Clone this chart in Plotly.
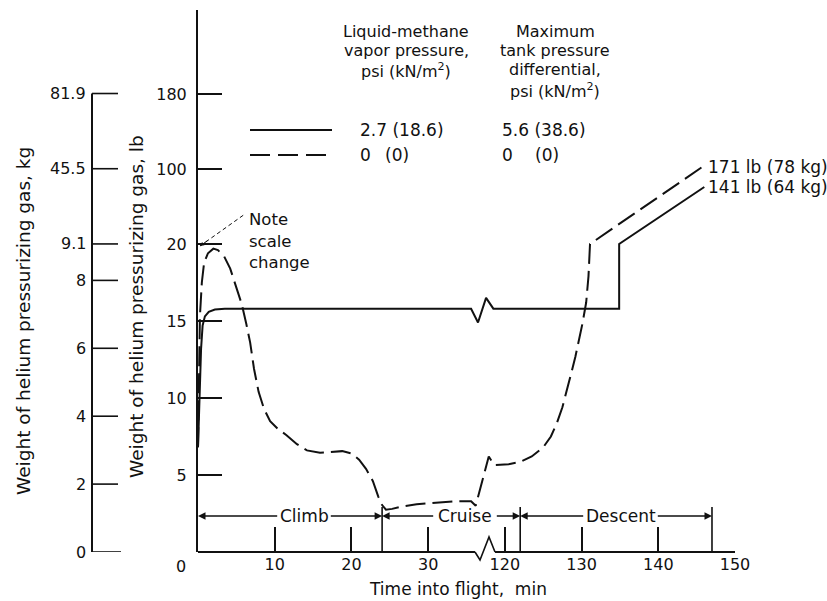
import plotly.graph_objects as go

# ---------------- data ----------------
# Time into flight, min  /  weight of helium pressurizing gas, lb
time_solid = [0, 0.2, 0.4, 0.6, 0.9, 1.4, 2.2, 3.5, 35.6, 36.5, 117.55, 118.5, 134.9, 134.9, 146.0]
lb_solid = [6.8, 10.5, 13.2, 14.7, 15.3, 15.6, 15.75, 15.8, 15.8, 14.9, 16.5, 15.8, 15.8, 20.0, 80.8]

time_dashed = [0, 0.12, 0.25, 0.5, 0.8, 1.3, 2.0, 2.6, 3.4, 4.2, 5.0, 5.7, 6.3, 6.8, 7.3,
               7.9, 8.6, 9.4, 10.4, 11.5, 12.9, 14.2, 15.9, 17.5, 18.8, 20.0, 21.0, 21.9,
               22.8, 23.5, 24.0, 24.5, 25.3, 26.5, 28.5, 31.0, 33.5, 35.6, 36.2,
               117.9, 118.6, 120.5, 122.0, 123.5, 125.0, 126.0, 126.8, 127.5, 128.1, 128.7,
               129.2, 129.7, 130.1, 130.6, 130.9, 131.1, 145.7]
lb_dashed = [6.8, 12.0, 15.3, 17.5, 18.8, 19.4, 19.7, 19.6, 19.2, 18.4, 17.2, 16.1, 14.8, 13.6, 11.9,
             10.4, 9.3, 8.5, 8.0, 7.6, 7.0, 6.6, 6.45, 6.5, 6.55, 6.4, 6.0, 5.4,
             4.6, 3.6, 3.05, 2.75, 2.8, 2.95, 3.1, 3.2, 3.3, 3.3, 3.0,
             6.2, 5.65, 5.7, 5.85, 6.2, 6.8, 7.5, 8.4, 9.4, 10.5, 11.7,
             12.7, 13.8, 14.8, 16.2, 17.9, 20.0, 102.0]

x_tick_minutes = [10, 20, 30, 120, 130, 140, 150]
x_tick_labels = ["10", "20", "30", "120", "130", "140", "150"]
lb_ticks = [5, 10, 15, 20, 100, 180]
lb_tick_labels = ["5", "10", "15", "20", "100", "180"]
kg_ticks = [0, 2, 4, 6, 8, 9.1, 45.5, 81.9]
kg_tick_labels = ["0", "2", "4", "6", "8", "9.1", "45.5", "81.9"]

phase_bounds = [0, 24, 122, 147]
phase_names = ["Climb", "Cruise", "Descent"]

legend_vapor = ["2.7 (18.6)", "0"]
legend_vapor_kn0 = "(0)"
legend_diff = ["5.6 (38.6)", "0"]
legend_diff_kn0 = "(0)"
end_labels = ["171 lb (78 kg)", "141 lb (64 kg)"]

LB_PER_KG = 2.20462

# ---------------- broken scales ----------------
BREAK_AT = 75.0       # minutes: anything later is shifted left by the gap
BREAK_GAP = 80.0      # minutes cut out of the time axis
UPPER_FACTOR = 16.43  # lb per lower-scale unit above the scale change at 20 lb


def sx(t):
    return t if t < BREAK_AT else t - BREAK_GAP


def sy(v):
    return v if v <= 20 else 20 + (v - 20) / UPPER_FACTOR


# ---------------- layout geometry (pixels) ----------------
W, H = 827, 601
L, R, T, B = 198, 735, 10, 552
PW, PH = R - L, B - T
XR = [0, 70]
YR = [0, PH / 15.4]


def px(x):
    return (x - L) / PW


def py(y):
    return (B - y) / PH


def ux(x):
    return XR[0] + (x - L) / PW * (XR[1] - XR[0])


def uy(y):
    return YR[0] + (B - y) / PH * (YR[1] - YR[0])


FONT = "DejaVu Sans"
BLACK = "#111111"

fig = go.Figure()
fig.add_trace(go.Scatter(x=[sx(t) for t in time_solid], y=[sy(v) for v in lb_solid],
                         mode="lines", line=dict(color=BLACK, width=2), showlegend=False,
                         hoverinfo="skip"))
fig.add_trace(go.Scatter(x=[sx(t) for t in time_dashed], y=[sy(v) for v in lb_dashed],
                         mode="lines", line=dict(color=BLACK, width=2, dash="20px,7px"),
                         showlegend=False, hoverinfo="skip"))

shapes = []
ann = []

# x axis line with break
brk0 = ux(475)
brk = [(ux(475), 0), (ux(480), py(560)), (ux(489), py(537)), (ux(495), 0)]
shapes.append(dict(type="line", xref="x", yref="paper", x0=0, x1=brk0, y0=0, y1=0,
                   line=dict(color=BLACK, width=2)))
path = "M " + " L ".join(f"{a},{b}" for a, b in brk)
shapes.append(dict(type="path", xref="x", yref="paper", path=path, line=dict(color=BLACK, width=1.6)))
shapes.append(dict(type="line", xref="x", yref="paper", x0=brk[-1][0], x1=sx(150), y0=0, y1=0,
                   line=dict(color=BLACK, width=2)))

# kg axis (drawn beside the lb axis)
kg_x = px(92)
shapes.append(dict(type="line", xref="paper", yref="y", x0=kg_x, x1=kg_x, y0=0,
                   y1=sy(kg_ticks[-1] * LB_PER_KG), line=dict(color=BLACK, width=2)))
for k, lab in zip(kg_ticks, kg_tick_labels):
    yy = sy(k * LB_PER_KG)
    shapes.append(dict(type="line", xref="paper", yref="y", x0=kg_x, x1=px(118 if k else 121),
                       y0=yy, y1=yy, line=dict(color=BLACK, width=1.6)))
    ann.append(dict(text=lab, xref="paper", yref="y", x=px(88), y=yy, xanchor="right",
                    yanchor="middle", showarrow=False, font=dict(size=16)))

# shared origin label
ann.append(dict(text="0", xref="paper", yref="paper", x=px(181), y=py(566), xanchor="center",
                yanchor="middle", showarrow=False, font=dict(size=16)))

# axis titles
ann.append(dict(text="Weight of helium pressurizing gas, kg", xref="paper", yref="paper",
                x=px(23), y=py(321), textangle=-90, showarrow=False, font=dict(size=18.5),
                xanchor="center", yanchor="middle"))
ann.append(dict(text="Weight of helium pressurizing gas, lb", xref="paper", yref="paper",
                x=px(136), y=py(307), textangle=-90, showarrow=False, font=dict(size=18.5),
                xanchor="center", yanchor="middle"))
ann.append(dict(text="Time into flight,  min", xref="paper", yref="paper",
                x=px(458), y=py(589), showarrow=False, font=dict(size=17),
                xanchor="center", yanchor="middle"))

# flight phases
ya = uy(516)
ytop = uy(507)
for b in phase_bounds[1:]:
    shapes.append(dict(type="line", xref="x", yref="y", x0=sx(b), x1=sx(b), y0=0, y1=ytop,
                       line=dict(color=BLACK, width=1.6)))
label_px = [(281, 327), (437, 493), (587, 654)]
for i, name in enumerate(phase_names):
    a, b = sx(phase_bounds[i]), sx(phase_bounds[i + 1])
    lx0, lx1 = ux(label_px[i][0]), ux(label_px[i][1])
    ann.append(dict(text=name, x=(lx0 + lx1) / 2, y=ya, xref="x", yref="y", showarrow=False,
                    font=dict(size=17), xanchor="center", yanchor="middle"))
    for start, end in [(lx0 - 0.3, a), (lx1 + 0.3, b)]:
        ann.append(dict(text="", x=end, y=ya, ax=start, ay=ya, xref="x", yref="y",
                        axref="x", ayref="y", showarrow=True, arrowhead=2, arrowsize=1,
                        arrowwidth=1.5, arrowcolor=BLACK, standoff=0, startstandoff=0))

# note about scale change
shapes.append(dict(type="line", xref="paper", yref="paper", x0=px(200), y0=py(246),
                   x1=px(245), y1=py(214), line=dict(color=BLACK, width=1, dash="4px,3px")))
ann.append(dict(text="", xref="paper", yref="paper", x=px(200), y=py(246), ax=9, ay=-6.4,
                axref="pixel", ayref="pixel", showarrow=True, arrowhead=2,
                arrowsize=0.8, arrowwidth=1, arrowcolor=BLACK, standoff=0, startstandoff=0))
for txt, yy in [("Note", 220), ("scale", 241), ("change", 262)]:
    ann.append(dict(text=txt, xref="paper", yref="paper", x=px(247), y=py(yy), xanchor="left",
                    yanchor="middle", showarrow=False, font=dict(size=16.5)))

# legend block
for txt, yy in [("Liquid-methane", 31), ("vapor pressure,", 50.5), ("psi (kN/m<sup>2</sup>)", 70.5)]:
    ann.append(dict(text=txt, xref="paper", yref="paper", x=px(406), y=py(yy), xanchor="center",
                    yanchor="middle", showarrow=False, font=dict(size=16)))
for txt, yy in [("Maximum", 31), ("tank pressure", 50.5), ("differential,", 69.5),
                ("psi (kN/m<sup>2</sup>)", 90.5)]:
    ann.append(dict(text=txt, xref="paper", yref="paper", x=px(555), y=py(yy), xanchor="center",
                    yanchor="middle", showarrow=False, font=dict(size=16)))
shapes.append(dict(type="line", xref="paper", yref="paper", x0=px(250), x1=px(332), y0=py(130),
                   y1=py(130), line=dict(color=BLACK, width=2)))
shapes.append(dict(type="line", xref="paper", yref="paper", x0=px(250), x1=px(332), y0=py(155),
                   y1=py(155), line=dict(color=BLACK, width=2, dash="20px,8px")))
for txt, yy in zip(legend_vapor, [130, 155]):
    ann.append(dict(text=txt, xref="paper", yref="paper", x=px(358), y=py(yy), xanchor="left",
                    yanchor="middle", showarrow=False, font=dict(size=17)))
ann.append(dict(text=legend_vapor_kn0, xref="paper", yref="paper", x=px(383), y=py(155),
                xanchor="left", yanchor="middle", showarrow=False, font=dict(size=17)))
for txt, yy in zip(legend_diff, [130, 155]):
    ann.append(dict(text=txt, xref="paper", yref="paper", x=px(500), y=py(yy), xanchor="left",
                    yanchor="middle", showarrow=False, font=dict(size=17)))
ann.append(dict(text=legend_diff_kn0, xref="paper", yref="paper", x=px(533), y=py(155),
                xanchor="left", yanchor="middle", showarrow=False, font=dict(size=17)))

# end labels
for txt, yy in zip(end_labels, [167, 187]):
    ann.append(dict(text=txt, xref="paper", yref="paper", x=px(706), y=py(yy), xanchor="left",
                    yanchor="middle", showarrow=False, font=dict(size=17)))

fig.update_layout(
    width=W, height=H,
    margin=dict(l=L, r=W - R, t=T, b=H - B, pad=0),
    paper_bgcolor="white", plot_bgcolor="white",
    font=dict(family=FONT, color=BLACK, size=17),
    shapes=shapes, annotations=ann, showlegend=False,
    xaxis=dict(range=XR, showgrid=False, zeroline=False, showline=False,
               ticks="inside", ticklen=25, tickwidth=1.6, tickcolor=BLACK,
               tickvals=[sx(t) for t in x_tick_minutes], ticktext=x_tick_labels,
               tickfont=dict(size=16), ticklabelstandoff=1),
    yaxis=dict(range=YR, showgrid=False, zeroline=False, showline=True, linecolor=BLACK,
               linewidth=2, ticks="inside", ticklen=24, tickwidth=1.6, tickcolor=BLACK,
               tickvals=[sy(v) for v in lb_ticks], ticktext=lb_tick_labels,
               tickfont=dict(size=16), ticklabelstandoff=6),
)

fig.write_html("out.html")
